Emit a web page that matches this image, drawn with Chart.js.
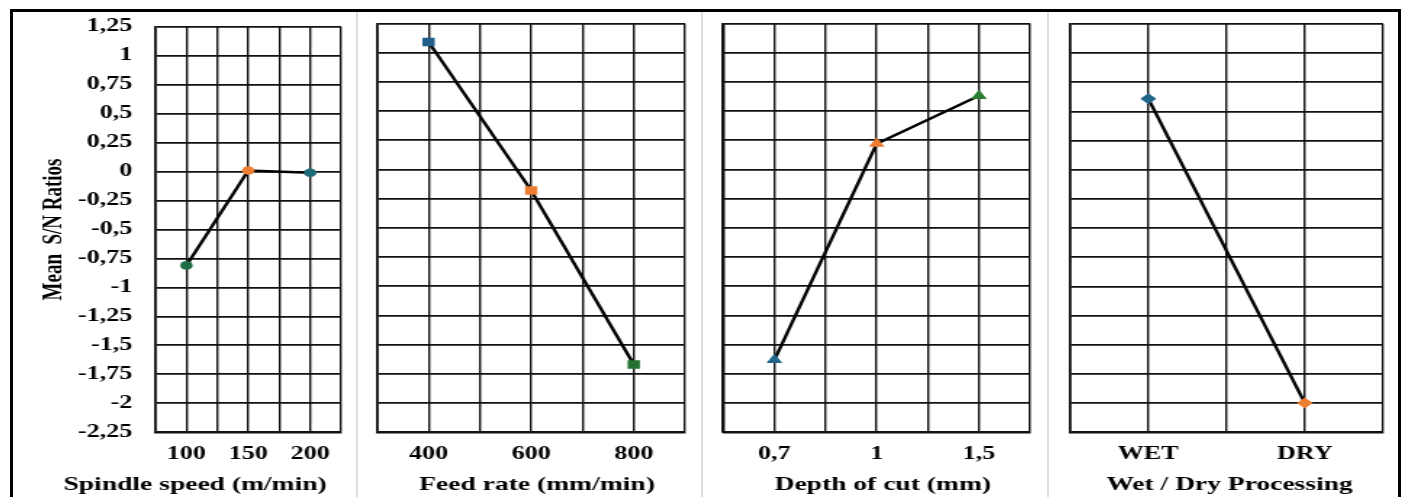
<!DOCTYPE html>
<html>
<head>
<meta charset="utf-8">
<script src="https://cdn.jsdelivr.net/npm/chart.js@4.4.1/dist/chart.umd.min.js"></script>
<style>
  html, body { margin: 0; padding: 0; background: #fff; overflow: hidden; }
  #page { position: relative; width: 1405px; height: 497px; overflow: hidden; }
  #frame { position: absolute; left: 10px; top: 9px; width: 1391px; height: 560px; box-sizing: border-box; border: 3px solid #000; }
  .sep { position: absolute; top: 12px; width: 2px; height: 490px; background: #dcdcdc; }
  canvas { position: absolute; transform-origin: 0 0; }
</style>
</head>
<body>
<div id="page">
  <div id="frame"></div>
  <div class="sep" style="left:356px"></div>
  <div class="sep" style="left:701px"></div>
  <div class="sep" style="left:1047px"></div>
  <canvas id="speed"></canvas>
  <canvas id="feed"></canvas>
  <canvas id="depth"></canvas>
  <canvas id="cooling"></canvas>
</div>
<script>
const speedLabels = ['100', '150', '200'];
const speedSN = [-0.81, 0.01, -0.01];
const feedLabels = ['400', '600', '800'];
const feedSN = [1.09, -0.18, -1.67];
const depthLabels = ['0,7', '1', '1,5'];
const depthSN = [-1.63, 0.22, 0.63];
const coolLabels = ['WET', 'DRY'];
const coolSN = [0.61, -2.0];

const yMin = -2.25;
const yMax = 1.25;
const yStep = 0.25;

const BLUE = '#1f6689';
const ORANGE = '#ed7d31';
const GREEN = '#22712f';

// the source picture is stretched sideways, so each canvas is drawn narrow and widened
const STRETCH = 1.45;
const FONT = "'Liberation Serif', 'Times New Roman', serif";
const LINE = '#111';
const TICK_SIZE = 18;

function panel(id, box, labels, values, colors, pointStyle, pointRadius, xTitle, yTitle) {
  const canvas = document.getElementById(id);
  const w = Math.round(box.width / STRETCH);
  const k = box.width / w;
  canvas.width = w;
  canvas.height = box.height;
  canvas.style.left = box.left + 'px';
  canvas.style.top = box.top + 'px';
  canvas.style.transform = 'scaleX(' + k + ')';

  const plotL = (box.plotLeft - box.left) / k;
  const plotR = (box.plotRight - box.left) / k;
  const padL = box.padLeft !== undefined ? box.padLeft : plotL;

  return new Chart(canvas, {
    type: 'line',
    data: {
      datasets: [{
        data: values.map((v, i) => ({ x: i + 1, y: v })),
        borderColor: '#000',
        borderWidth: 2.4,
        pointStyle: pointStyle,
        pointRadius: pointRadius,
        pointBorderWidth: 0,
        pointBackgroundColor: colors,
        pointBorderColor: colors,
      }]
    },
    options: {
      responsive: false,
      animation: false,
      layout: {
        padding: { left: padL, right: w - plotR, top: box.plotTop - box.top, bottom: 0 }
      },
      plugins: {
        legend: { display: false },
        tooltip: { enabled: false },
        title: {
          display: true,
          text: xTitle,
          position: 'bottom',
          color: '#000',
          padding: { top: 0, bottom: 1 },
          font: { family: FONT, size: 19, weight: 'bold' }
        }
      },
      scales: {
        x: {
          type: 'linear',
          min: 0.5,
          max: labels.length + 0.5,
          afterFit: function (scale) { scale.height = 41; },
          border: { display: true, color: LINE, width: 1.4 },
          grid: { color: LINE, lineWidth: 1.4, drawTicks: false },
          ticks: {
            stepSize: 0.5,
            autoSkip: false,
            maxRotation: 0,
            padding: 11,
            color: '#000',
            font: { family: FONT, size: TICK_SIZE, weight: 'bold' },
            callback: function (v) {
              return Number.isInteger(v) ? labels[v - 1] : '';
            }
          }
        },
        y: {
          min: yMin,
          max: yMax,
          afterFit: function (scale) { scale.width = plotL - padL; },
          border: { display: true, color: LINE, width: 1.7 },
          grid: { color: LINE, lineWidth: 1.7, drawTicks: false },
          ticks: {
            display: !!yTitle,
            stepSize: yStep,
            padding: 16,
            color: '#000',
            font: { family: FONT, size: TICK_SIZE, weight: 'bold' },
            callback: function (v) {
              return String(v).replace('.', ',');
            }
          },
          title: {
            display: !!yTitle,
            text: yTitle,
            color: '#000',
            padding: { top: 0, bottom: 0 },
            font: { family: FONT, size: 19, weight: 'bold' }
          }
        }
      }
    }
  });
}

// the y tick labels of the first panel reserve about 27px above the plot,
// so that canvas starts at the page top
panel('speed',
  { left: 12, top: 0, width: 345, height: 497, plotLeft: 155.5, plotRight: 352, plotTop: 26.7, padLeft: 18 },
  speedLabels, speedSN, ['#1f6c45', ORANGE, '#1f6a78'], 'circle', 4.3,
  'Spindle speed (m/min)', 'Mean  S/N Ratios');

panel('feed',
  { left: 360, top: 13, width: 341, height: 484, plotLeft: 377.3, plotRight: 696.7, plotTop: 23.4 },
  feedLabels, feedSN, ['#1f5e88', ORANGE, GREEN], 'rect', 6,
  'Feed rate (mm/min)');

panel('depth',
  { left: 704, top: 13, width: 342, height: 484, plotLeft: 723.3, plotRight: 1042.3, plotTop: 23.4 },
  depthLabels, depthSN, [BLUE, ORANGE, '#2a7d2e'], 'triangle', 6.3,
  'Depth of cut (mm)');

panel('cooling',
  { left: 1050, top: 13, width: 349, height: 484, plotLeft: 1070, plotRight: 1389, plotTop: 24 },
  coolLabels, coolSN, [BLUE, ORANGE], 'rectRot', 5.5,
  'Wet / Dry Processing');
</script>
</body>
</html>
